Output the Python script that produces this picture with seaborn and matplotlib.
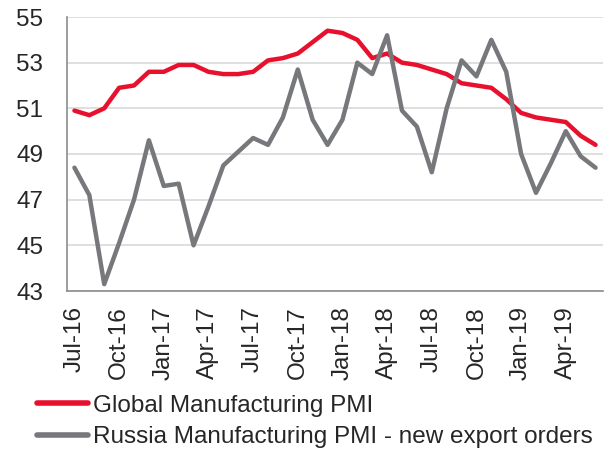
import matplotlib
matplotlib.use("Agg")
import matplotlib.pyplot as plt
import seaborn as sns
import pandas as pd

months = ["Jul-16", "Aug-16", "Sep-16", "Oct-16", "Nov-16", "Dec-16",
          "Jan-17", "Feb-17", "Mar-17", "Apr-17", "May-17", "Jun-17",
          "Jul-17", "Aug-17", "Sep-17", "Oct-17", "Nov-17", "Dec-17",
          "Jan-18", "Feb-18", "Mar-18", "Apr-18", "May-18", "Jun-18",
          "Jul-18", "Aug-18", "Sep-18", "Oct-18", "Nov-18", "Dec-18",
          "Jan-19", "Feb-19", "Mar-19", "Apr-19", "May-19", "Jun-19"]

global_pmi = [50.9, 50.7, 51.0, 51.9, 52.0, 52.6, 52.6, 52.9, 52.9, 52.6, 52.5, 52.5,
              52.6, 53.1, 53.2, 53.4, 53.9, 54.4, 54.3, 54.0, 53.2, 53.4, 53.0, 52.9,
              52.7, 52.5, 52.1, 52.0, 51.9, 51.4, 50.8, 50.6, 50.5, 50.4, 49.8, 49.4]

russia_export = [48.4, 47.2, 43.3, 45.1, 47.0, 49.6, 47.6, 47.7, 45.0, 46.7, 48.5, 49.1,
                 49.7, 49.4, 50.6, 52.7, 50.5, 49.4, 50.5, 53.0, 52.5, 54.2, 50.9, 50.2,
                 48.2, 51.0, 53.1, 52.4, 54.0, 52.6, 49.0, 47.3, 48.6, 50.0, 48.9, 48.4]

tick_labels = ["Jul-16", "Oct-16", "Jan-17", "Apr-17", "Jul-17", "Oct-17",
               "Jan-18", "Apr-18", "Jul-18", "Oct-18", "Jan-19", "Apr-19"]

names = ["Global Manufacturing PMI", "Russia Manufacturing PMI - new export orders"]
colors = ["#E8112D", "#77787B"]

df = pd.DataFrame({
    "pos": list(range(len(months))) * 2,
    "value": global_pmi + russia_export,
    "series": [names[0]] * len(months) + [names[1]] * len(months),
})

sns.set_style("white")
plt.rcParams["font.family"] = ["Liberation Sans", "DejaVu Sans"]
fs = 17.5

fig = plt.figure(figsize=(6.1, 4.53), dpi=100)
ax = fig.add_axes([67 / 610, 1 - 291 / 453, 536 / 610, 274 / 453])

sns.lineplot(data=df, x="pos", y="value", hue="series", palette=colors,
             linewidth=3.2, ax=ax, legend=False)

ax.set_xlim(-0.5, len(months) - 0.5)
ax.set_ylim(43, 55)
ax.set_yticks(range(43, 56, 2))
ax.yaxis.grid(True, color="#D9D9D9", linewidth=1.2)
ax.set_axisbelow(True)

# tick marks at quarter boundaries, labels at category centers
label_pos = [months.index(m) for m in tick_labels]
ax.set_xticks([p - 0.5 for p in label_pos] + [len(months) - 0.5])
ax.set_xticklabels([])
ax.set_xticks(label_pos, minor=True)
ax.set_xticklabels(tick_labels, minor=True, rotation=90)
ax.tick_params(axis="x", which="major", length=6, width=1.2, color="#8C8C8C", direction="out")
ax.tick_params(axis="x", which="minor", length=0, pad=11, labelsize=fs)
ax.tick_params(axis="y", length=6, width=1.2, color="#8C8C8C", direction="out",
               labelsize=fs, pad=11)

for side in ["top", "right"]:
    ax.spines[side].set_visible(False)
for side in ["left", "bottom"]:
    ax.spines[side].set_color("#8C8C8C")
    ax.spines[side].set_linewidth(1.2)

ax.set_xlabel("")
ax.set_ylabel("")

handles = [plt.Line2D([], [], color=c, linewidth=4) for c in colors]
fig.legend(handles, names, loc="upper left", bbox_to_anchor=(27 / 610, 1 - 385 / 453),
           frameon=False, fontsize=17.5, handlelength=2.1, handletextpad=0.2,
           labelspacing=0.4, borderaxespad=0)

fig.savefig("out.png", dpi=100)
